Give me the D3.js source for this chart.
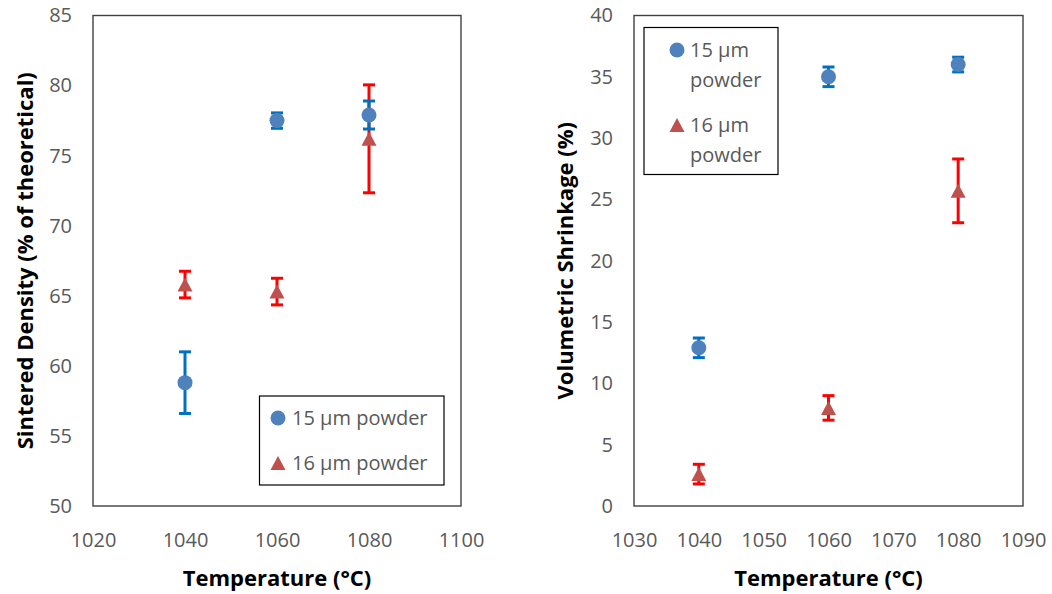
<!doctype html>
<html lang="en">
<head>
<meta charset="UTF-8">
<title>Sintered density and shrinkage</title>
<style>
    body { margin: 0; background: #fff; }
    text { font-family: "Open Sans", sans-serif; }
    .tick text { fill: #595959; font-size: 20px; }
    .axis-title { font-weight: bold; font-size: 22px; fill: #000; }
    .legend text { fill: #595959; font-size: 20px; }
</style>
</head>
<body>
<div class="chart"></div>
<script src="https://cdn.jsdelivr.net/npm/d3@7"></script>
<script>
// data
const temperatures = [1040, 1060, 1080]

const density15 = [58.8, 77.5, 77.9]
const density15Err = [2.2, 0.55, 1.0]
const density16 = [65.8, 65.3, 76.2]
const density16Err = [0.95, 0.95, 3.85]

const shrink15 = [12.9, 35.0, 36.0]
const shrink15Err = [0.8, 0.8, 0.6]
const shrink16 = [2.6, 8.0, 25.7]
const shrink16Err = [0.8, 1.0, 2.6]

const densityXTicks = [1020, 1040, 1060, 1080, 1100]
const densityYTicks = [50, 55, 60, 65, 70, 75, 80, 85]
const shrinkXTicks = [1030, 1040, 1050, 1060, 1070, 1080, 1090]
const shrinkYTicks = [0, 5, 10, 15, 20, 25, 30, 35, 40]

const seriesNames = ['15 \u00b5m powder', '16 \u00b5m powder']

const colors = {
    circle: '#4f81bd',
    circleErr: '#0070c0',
    triangle: '#c0504d',
    triangleErr: '#ff0000'
}

const svg = d3.select('.chart')
    .append('svg')
    .attr('width', 1052)
    .attr('height', 594)

// triangle marker with its box centred on the point
const trianglePath = 'M0,-7L7.5,7L-7.5,7Z'

function drawPanel(opts) {
    const g = svg.append('g')

    const x = d3.scaleLinear()
        .domain(d3.extent(opts.xTicks))
        .range([opts.left, opts.right])
    const y = d3.scaleLinear()
        .domain(d3.extent(opts.yTicks))
        .range([opts.bottom, opts.top])

    g.append('g')
        .attr('transform', 'translate(0,' + opts.bottom + ')')
        .call(d3.axisBottom(x).tickValues(opts.xTicks).tickSize(0).tickPadding(27).tickFormat(d3.format('d')))
        .call(s => s.select('.domain').remove())

    g.append('g')
        .attr('transform', 'translate(' + opts.left + ',0)')
        .call(d3.axisLeft(y).tickValues(opts.yTicks).tickSize(0).tickPadding(21))
        .call(s => s.select('.domain').remove())

    // plot frame
    g.append('rect')
        .attr('x', opts.left)
        .attr('y', opts.top)
        .attr('width', opts.right - opts.left)
        .attr('height', opts.bottom - opts.top)
        .attr('fill', 'none')
        .attr('stroke', '#404040')
        .attr('stroke-width', 1.4)

    const series = [
        {vals: opts.s16, errs: opts.e16, color: colors.triangleErr},
        {vals: opts.s15, errs: opts.e15, color: colors.circleErr}
    ]

    // error bars
    series.forEach(function(s) {
        const bars = g.append('g')
            .attr('stroke', s.color)
            .attr('stroke-width', 3)
        temperatures.forEach(function(t, i) {
            const cx = x(t)
            const hi = y(s.vals[i] + s.errs[i])
            const lo = y(s.vals[i] - s.errs[i])
            bars.append('line').attr('x1', cx).attr('x2', cx).attr('y1', hi).attr('y2', lo)
            bars.append('line').attr('x1', cx - 6).attr('x2', cx + 6).attr('y1', hi).attr('y2', hi)
            bars.append('line').attr('x1', cx - 6).attr('x2', cx + 6).attr('y1', lo).attr('y2', lo)
        })
    })

    // markers
    g.append('g').selectAll('path')
        .data(temperatures)
        .enter().append('path')
        .attr('d', trianglePath)
        .attr('fill', colors.triangle)
        .attr('transform', (d, i) => 'translate(' + x(d) + ',' + y(opts.s16[i]) + ')')

    g.append('g').selectAll('circle')
        .data(temperatures)
        .enter().append('circle')
        .attr('cx', d => x(d))
        .attr('cy', (d, i) => y(opts.s15[i]))
        .attr('r', 7.5)
        .attr('fill', colors.circle)

    // axis titles
    g.append('text')
        .attr('class', 'axis-title')
        .attr('x', (opts.left + opts.right) / 2)
        .attr('y', 586)
        .attr('text-anchor', 'middle')
        .text('Temperature (\u00b0C)')

    g.append('text')
        .attr('class', 'axis-title')
        .attr('transform', 'translate(' + opts.yTitleX + ',' + (opts.top + opts.bottom) / 2 + ') rotate(-90)')
        .attr('text-anchor', 'middle')
        .text(opts.yTitle)

    // legend
    const lg = g.append('g').attr('class', 'legend')
    const L = opts.legend
    lg.append('rect')
        .attr('x', L.x).attr('y', L.y)
        .attr('width', L.w).attr('height', L.h)
        .attr('fill', '#fff')
        .attr('stroke', '#000')
        .attr('stroke-width', 1.2)
    L.rows.forEach(function(row, i) {
        if (i === 0) {
            lg.append('circle').attr('cx', L.mx).attr('cy', row.y).attr('r', 7.5).attr('fill', colors.circle)
        } else {
            lg.append('path').attr('d', trianglePath).attr('fill', colors.triangle)
                .attr('transform', 'translate(' + L.mx + ',' + row.y + ')')
        }
        row.lines.forEach(function(line, j) {
            lg.append('text')
                .attr('x', L.tx)
                .attr('y', row.y + j * L.lineH)
                .attr('dy', '0.35em')
                .text(line)
        })
    })
}

drawPanel({
    left: 93, right: 461, top: 15.5, bottom: 506,
    xTicks: densityXTicks, yTicks: densityYTicks,
    s15: density15, e15: density15Err, s16: density16, e16: density16Err,
    yTitle: 'Sintered Density (% of theoretical)', yTitleX: 33,
    legend: {
        x: 259.5, y: 396, w: 184.5, h: 89, mx: 278, tx: 292, lineH: 0,
        rows: [{y: 418, lines: [seriesNames[0]]}, {y: 463, lines: [seriesNames[1]]}]
    }
})

drawPanel({
    left: 634, right: 1023, top: 15.5, bottom: 506,
    xTicks: shrinkXTicks, yTicks: shrinkYTicks,
    s15: shrink15, e15: shrink15Err, s16: shrink16, e16: shrink16Err,
    yTitle: 'Volumetric Shrinkage (%)', yTitleX: 573,
    legend: {
        x: 644, y: 27.5, w: 134, h: 147, mx: 677, tx: 690, lineH: 29.5,
        rows: [{y: 50, lines: ['15 \u00b5m', 'powder']}, {y: 125, lines: ['16 \u00b5m', 'powder']}]
    }
})
</script>
</body>
</html>
